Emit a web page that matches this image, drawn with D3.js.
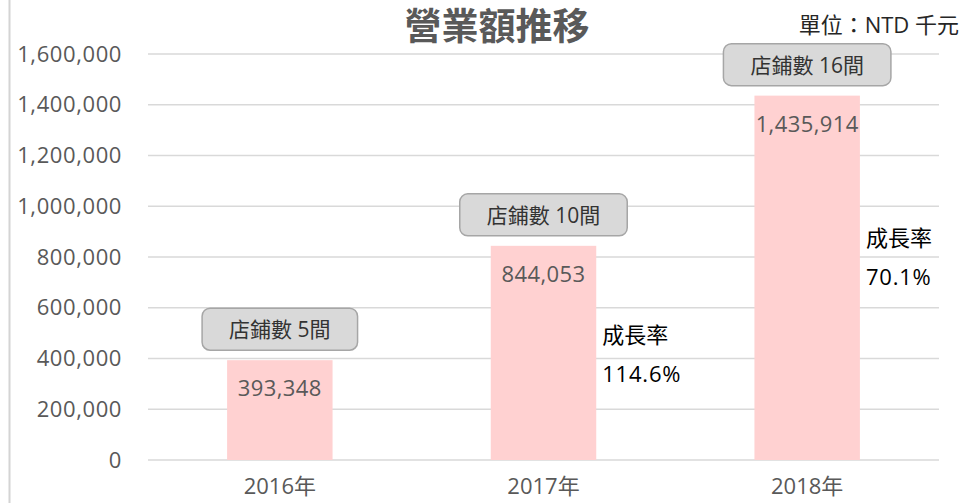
<!DOCTYPE html>
<html lang="zh-Hant">
<head>
<meta charset="UTF-8">
<title>營業額推移</title>
<style>
  body { margin: 0; background: #fff; }
  svg text { font-family: "Open Sans", "Noto Sans CJK TC", sans-serif; }
</style>
</head>
<body>
<div id="chart"></div>
<script src="https://d3js.org/d3.v7.min.js"></script>
<script>
// data
const years = ["2016年", "2017年", "2018年"];
const revenue = [393348, 844053, 1435914];
const stores = [5, 10, 16];
const growth = [null, 114.6, 70.1];
const yTicks = [0, 200000, 400000, 600000, 800000, 1000000, 1200000, 1400000, 1600000];

const W = 965, H = 503;
const plot = { left: 148, right: 939, top: 54, bottom: 460 };
// where the growth-rate notes sit, in axis units
const growthAt = [null, 492000, 875000];

const svg = d3.select("#chart").append("svg")
    .attr("width", W)
    .attr("height", H);

// left border of chart area
svg.append("line")
    .attr("x1", 9.5).attr("x2", 9.5)
    .attr("y1", 0).attr("y2", H)
    .attr("stroke", "#d4d4d4")
    .attr("stroke-width", 2);

const x = d3.scaleBand()
    .domain(years)
    .range([plot.left, plot.right])
    .paddingInner(0.6)
    .paddingOuter(0.3);

const y = d3.scaleLinear()
    .domain([0, 1600000])
    .range([plot.bottom, plot.top]);

// gridlines
svg.append("g")
    .selectAll("line")
    .data(yTicks)
    .enter().append("line")
    .attr("x1", plot.left).attr("x2", plot.right)
    .attr("y1", d => y(d)).attr("y2", d => y(d))
    .attr("stroke", "#d9d9d9")
    .attr("stroke-width", 1.5);

// y axis labels
const yAxis = d3.axisLeft(y)
    .tickValues(yTicks)
    .tickSize(0)
    .tickPadding(0)
    .tickFormat(d3.format(","));
const gy = svg.append("g")
    .attr("transform", "translate(122,0)")
    .call(yAxis);
gy.select(".domain").remove();
gy.selectAll("text")
    .attr("fill", "#595959")
    .style("font-size", "22px")
    .style("letter-spacing", "0.6px");

// x axis labels
const xAxis = d3.axisBottom(x).tickSize(0).tickPadding(0);
const gx = svg.append("g")
    .attr("transform", `translate(0,${plot.bottom + 18})`)
    .call(xAxis);
gx.select(".domain").remove();
gx.selectAll("text")
    .attr("fill", "#595959")
    .style("font-size", "22px");

// bars
svg.append("g")
    .selectAll("rect")
    .data(revenue)
    .enter().append("rect")
    .attr("x", (d, i) => x(years[i]))
    .attr("y", d => y(d))
    .attr("width", x.bandwidth())
    .attr("height", d => y(0) - y(d))
    .attr("fill", "#ffd1d1");

// value labels
svg.append("g")
    .selectAll("text")
    .data(revenue)
    .enter().append("text")
    .attr("x", (d, i) => x(years[i]) + x.bandwidth() / 2)
    .attr("y", d => y(d) + 36)
    .attr("text-anchor", "middle")
    .attr("fill", "#595959")
    .style("font-size", "22px")
    .style("letter-spacing", "0.4px")
    .text(d => d3.format(",")(d));

// store count callouts
const boxes = svg.append("g")
    .selectAll("g")
    .data(stores)
    .enter().append("g");

boxes.append("text")
    .attr("x", (d, i) => x(years[i]) + x.bandwidth() / 2)
    .attr("y", (d, i) => y(revenue[i]) - 23)
    .attr("text-anchor", "middle")
    .attr("fill", "#333")
    .style("font-size", "21px")
    .text(d => "店鋪數 " + d + "間");

boxes.each(function () {
    const g = d3.select(this);
    const bb = g.select("text").node().getBBox();
    g.insert("rect", "text")
        .attr("x", bb.x - 27)
        .attr("y", bb.y - 7)
        .attr("width", bb.width + 54)
        .attr("height", bb.height + 14)
        .attr("rx", 8)
        .attr("fill", "#d9d9d9")
        .attr("stroke", "#a6a6a6")
        .attr("stroke-width", 1.5);
});

// growth rate notes
const notes = svg.append("g")
    .selectAll("g")
    .data(growth.map((g, i) => ({ g, i })).filter(d => d.g !== null))
    .enter().append("g");

notes.append("text")
    .attr("x", d => x(years[d.i]) + x.bandwidth() + 6)
    .attr("y", d => y(growthAt[d.i]) + 8)
    .attr("fill", "#000")
    .style("font-size", "22px")
    .text("成長率");

notes.append("text")
    .attr("x", d => x(years[d.i]) + x.bandwidth() + 6)
    .attr("y", d => y(growthAt[d.i]) + 47)
    .attr("fill", "#000")
    .style("font-size", "22px")
    .style("letter-spacing", "0.8px")
    .text(d => d.g + "%");

// title
svg.append("text")
    .attr("x", 497)
    .attr("y", 40)
    .attr("text-anchor", "middle")
    .attr("fill", "#595959")
    .style("font-size", "37px")
    .style("font-weight", "bold")
    .text("營業額推移");

svg.append("text")
    .attr("x", 959)
    .attr("y", 33)
    .attr("text-anchor", "end")
    .attr("fill", "#262626")
    .style("font-size", "22px")
    .text("單位：NTD 千元");
</script>
</body>
</html>
